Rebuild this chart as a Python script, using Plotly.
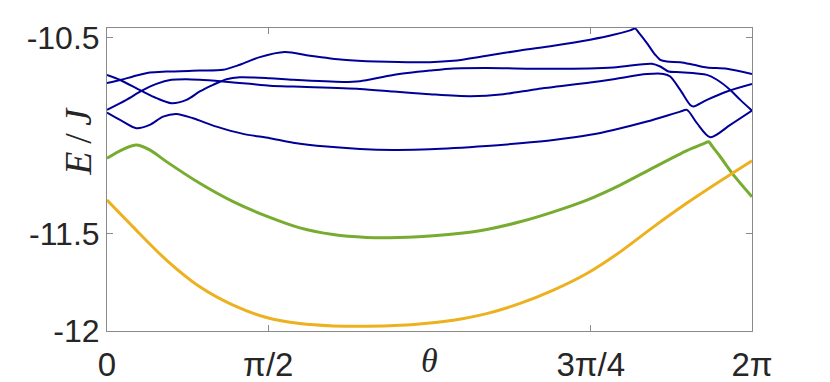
import plotly.graph_objects as go
import math

PI = math.pi

# Band data (theta in radians, energy E/J)
line1_theta = [0, 0.1404, 0.2535, 0.4163, 0.5792, 0.9039, 1.1310, 1.2939, 1.4889, 1.7326, 1.9764,
               2.3011, 2.6267, 3.1464, 3.3736, 3.6993, 4.0240, 4.3487, 4.7065, 4.9337, 5.0963, 5.1453,
               5.1840, 5.2594, 5.3400, 5.3890, 5.4544, 5.5840, 5.7137, 5.8444, 6.0394, 6.2832]
line1_E = [-10.731, -10.714, -10.697, -10.677, -10.672, -10.667, -10.663, -10.637, -10.598, -10.572,
           -10.591, -10.612, -10.621, -10.624, -10.617, -10.591, -10.564, -10.540, -10.509, -10.484,
           -10.461, -10.452, -10.475, -10.526, -10.586, -10.612, -10.621, -10.624, -10.637, -10.651,
           -10.658, -10.684]

line2_theta = [0, 0.1238, 0.3354, 0.4817, 0.6279, 0.7742, 0.9039, 1.0335, 1.1642, 1.2939, 1.5864,
               1.8136, 2.3011, 2.4640, 2.7886, 3.1464, 3.3736, 3.6993, 4.3487, 4.9337, 5.3081,
               5.3890, 5.4700, 5.5840, 5.8444, 5.9420, 6.0716, 6.1690, 6.2832]
line2_E = [-10.689, -10.714, -10.771, -10.808, -10.834, -10.817, -10.774, -10.740, -10.711, -10.701,
           -10.706, -10.714, -10.725, -10.721, -10.689, -10.667, -10.656, -10.654, -10.658, -10.651,
           -10.632, -10.646, -10.672, -10.675, -10.689, -10.714, -10.766, -10.817, -10.872]

line3_theta = [0, 0.1892, 0.3354, 0.4817, 0.6279, 0.7742, 0.9039, 1.1310, 1.3914, 1.5864, 1.8136,
               2.4640, 2.7886, 3.1464, 3.5364, 3.8611, 4.1868, 4.7065, 4.9337, 5.2594, 5.4212,
               5.4866, 5.5840, 5.6815, 5.7137, 5.8444, 6.0394, 6.2832]
line3_E = [-10.868, -10.817, -10.771, -10.735, -10.714, -10.711, -10.714, -10.723, -10.735, -10.744,
           -10.749, -10.761, -10.774, -10.788, -10.798, -10.788, -10.762, -10.728, -10.711, -10.685,
           -10.684, -10.697, -10.766, -10.843, -10.851, -10.817, -10.774, -10.736]

line4_theta = [0, 0.1560, 0.2867, 0.4163, 0.5460, 0.6767, 0.8385, 1.0667, 1.3260, 1.5864, 1.8136,
               2.1392, 2.4640, 2.7886, 3.1464, 3.6993, 4.0240, 4.3487, 4.7065, 4.9337, 5.2594,
               5.5840, 5.6493, 5.7468, 5.8765, 6.0716, 6.2832]
line4_E = [-10.882, -10.928, -10.962, -10.945, -10.903, -10.889, -10.911, -10.954, -10.991, -11.013,
           -11.036, -11.056, -11.068, -11.073, -11.070, -11.053, -11.039, -11.022, -10.996, -10.971,
           -10.928, -10.877, -10.868, -10.936, -11.008, -10.945, -10.872]

green_theta = [0, 0.156, 0.2865, 0.416, 0.579, 0.904, 1.2285, 1.554, 1.879, 2.2035, 2.529, 2.756,
               3.146, 3.3735, 3.699, 4.024, 4.3485, 4.674, 4.999, 5.3235, 5.649, 5.818, 5.860, 5.896,
               5.974, 6.104, 6.2832]
green_E = [-11.116, -11.070, -11.048, -11.073, -11.133, -11.244, -11.338, -11.412, -11.472, -11.506,
           -11.521, -11.523, -11.514, -11.504, -11.480, -11.441, -11.390, -11.330, -11.253, -11.164,
           -11.077, -11.040, -11.031, -11.055, -11.108, -11.202, -11.313]

yellow_theta = [0, 0.2535, 0.579, 0.904, 1.2285, 1.554, 1.879, 2.2035, 2.529, 2.854, 3.146, 3.3735,
                3.699, 4.024, 4.3485, 4.674, 4.999, 5.3235, 5.649, 5.974, 6.2832]
yellow_E = [-11.330, -11.467, -11.637, -11.774, -11.868, -11.931, -11.962, -11.974, -11.976, -11.971,
            -11.959, -11.945, -11.911, -11.859, -11.791, -11.706, -11.595, -11.467, -11.345, -11.232,
            -11.128]

x_tickvals = [0, PI / 2, 3 * PI / 2, 2 * PI]
x_ticktext = ["0", "π/2", "3π/4", "2π"]
y_tickvals = [-12, -11.5, -10.5]
y_ticktext = ["-12", "-11.5", "-10.5"]

BLUE = "#000099"
GREEN = "#77AC30"
YELLOW = "#EDB120"
AXIS = "#8a8a8a"
TEXT = "#262626"

fig = go.Figure()
for th, e in [(line1_theta, line1_E), (line2_theta, line2_E), (line3_theta, line3_E), (line4_theta, line4_E)]:
    fig.add_trace(go.Scatter(x=th, y=e, mode="lines", showlegend=False,
                             line=dict(color=BLUE, width=2, shape="spline", smoothing=0.8)))
fig.add_trace(go.Scatter(x=green_theta, y=green_E, mode="lines", showlegend=False,
                         line=dict(color=GREEN, width=3, shape="spline", smoothing=0.8)))
fig.add_trace(go.Scatter(x=yellow_theta, y=yellow_E, mode="lines", showlegend=False,
                         line=dict(color=YELLOW, width=3, shape="spline", smoothing=0.8)))

fig.update_layout(
    width=830, height=382,
    margin=dict(l=107, r=78, t=28, b=51, autoexpand=False),
    paper_bgcolor="white", plot_bgcolor="white",
    showlegend=False,
)
fig.update_xaxes(
    range=[0, 2 * PI], tickvals=x_tickvals, ticktext=x_ticktext, automargin=False,
    showgrid=False, zeroline=False, showline=True, linecolor=AXIS, linewidth=1, mirror="allticks",
    ticks="inside", ticklen=6, tickcolor=AXIS, tickwidth=1,
    tickfont=dict(family="Liberation Sans, Arial", size=33, color=TEXT),
    ticklabelstandoff=4,
)
fig.update_yaxes(
    range=[-12, -10.449], tickvals=y_tickvals, ticktext=y_ticktext, automargin=False,
    showgrid=False, zeroline=False, showline=True, linecolor=AXIS, linewidth=1, mirror="allticks",
    ticks="inside", ticklen=6, tickcolor=AXIS, tickwidth=1,
    tickfont=dict(family="Liberation Sans, Arial", size=32, color=TEXT),
    ticklabelstandoff=0,
)
fig.add_annotation(
    text="<i>θ</i>", xref="paper", yref="paper", x=0.5, y=0, yanchor="middle", xanchor="center",
    yshift=-29, showarrow=False,
    font=dict(family="Liberation Serif, DejaVu Serif, serif", size=34, color=TEXT),
)
fig.add_annotation(
    text="<i>E</i>\u2009/\u2009<i>J</i>", xref="paper", yref="paper", x=-0.0455, y=0.627,
    xanchor="center", yanchor="middle", textangle=-90, showarrow=False,
    font=dict(family="Liberation Serif, DejaVu Serif, serif", size=38, color=TEXT),
)

fig.write_html("out.html", config={"displayModeBar": False},
               post_script="document.body.style.margin='0px';")
